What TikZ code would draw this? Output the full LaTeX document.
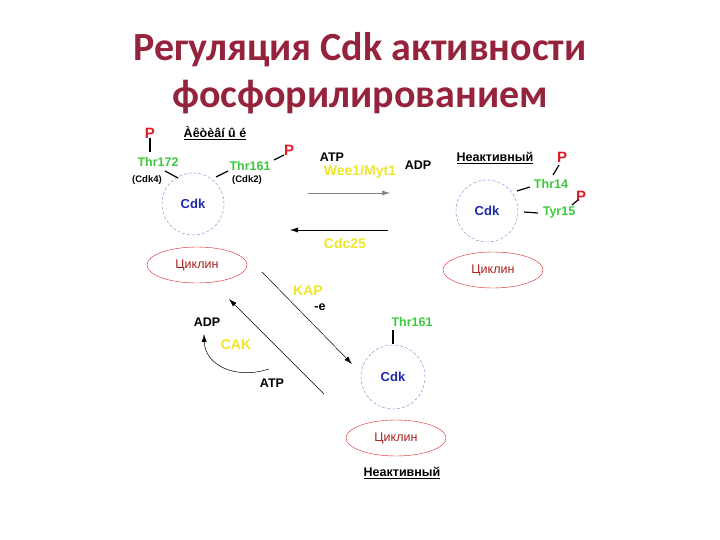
\documentclass[tikz,border=0pt]{standalone}
\usepackage{fontspec}
\setmainfont{Liberation Sans}
\newfontfamily\titlefont{Carlito}
\usetikzlibrary{arrows.meta,shapes.geometric}
\definecolor{ttl}{RGB}{150,35,60}
\definecolor{grn}{RGB}{60,200,60}
\definecolor{yel}{RGB}{240,230,40}
\definecolor{cdkb}{RGB}{30,40,170}
\definecolor{cyc}{RGB}{170,30,30}
\definecolor{pr}{RGB}{220,30,40}
\begin{document}
\begin{tikzpicture}[x=1pt,y=-1pt,
 lab/.style={font=\bfseries\fontsize{12.5}{13}\selectfont,inner sep=0pt},
 g/.style={lab,text=grn}, y1/.style={lab,text=yel,font=\bfseries\fontsize{14}{15}\selectfont},
 pp/.style={lab,text=pr,font=\bfseries\fontsize{15}{16}\selectfont},
 sm/.style={lab,font=\bfseries\fontsize{9.5}{10}\selectfont},
 cdk/.style={circle,draw=cdkb!60,densely dashed,minimum size=62pt,text=cdkb,font=\bfseries\fontsize{13}{14}\selectfont},
 cyc/.style={ellipse,draw=pr,minimum width=100pt,minimum height=36pt,text=cyc,font=\fontsize{12.5}{13}\selectfont},
 ln/.style={line width=1.2pt},
 ar/.style={-{Latex[length=8pt,width=5pt]},line width=0.5pt}]
\useasboundingbox (0,0) rectangle (720,540);
\node[font=\titlefont\bfseries\fontsize{40}{42}\selectfont,text=ttl] (t1) at (360,50) {Регуляция Cdk активности};
\node[font=\titlefont\bfseries\fontsize{40}{42}\selectfont,text=ttl] (t2) at (360,97) {фосфорилированием};
% left
\node[cdk] (c1) at (193,204) {Cdk};
\node[cyc] (y1) at (197,265) {Циклин};
\node[pp] (p1) at (150,133) {P};
\node[lab] (a1) at (215,133) {\underline{Àêòèâí û é}};
\node[g] (t172) at (158,162) {Thr172};
\node[sm] (k4) at (147,180) {(Cdk4)};
\node[g] (t161) at (250,166) {Thr161};
\node[sm] (k2) at (247,180) {(Cdk2)};
\node[pp] (p2) at (289,150) {P};
\draw[ln] (p1.south) -- ++(0,14);
\draw[ln] (165,171) -- (178,178);
\draw[ln] (216,177) -- (228,171);
\draw[ln] (274,160) -- (284,155);
% middle
\node[lab] (atp1) at (332,157) {ATP};
\node[y1] (wee) at (360,172) {Wee1/Myt1};
\node[lab] (adp1) at (418,165) {ADP};
\coordinate (r1) at (308,193); \coordinate (r2) at (390,193);
\draw[ar,gray] (r1) -- (r2);
\coordinate (l1) at (388,230); \coordinate (l2) at (290,230);
\draw[ar] (l1) -- (l2);
\node[y1] (cdc) at (345,243) {Cdc25};
% right
\node[lab] (ina1) at (495,158) {\underline{Неактивный}};
\node[cdk] (c2) at (487,211) {Cdk};
\node[cyc] (y2) at (493,270) {Циклин};
\node[g] (t14) at (551,184) {Thr14};
\node[g] (y15) at (559,212) {Tyr15};
\node[pp] (p3) at (562,157) {P};
\node[pp] (p4) at (581,196) {P};
\draw[ln] (517,191) -- (530,187);
\draw[ln] (553,175) -- (559,165);
\draw[ln] (524,212) -- (538,213);
\draw[ln] (572,205) -- (578,200);
% bottom
\coordinate (d1) at (262,272); \coordinate (d2) at (352,364);
\draw[ar] (d1) -- (d2);
\coordinate (u1) at (324,394); \coordinate (u2) at (229,299);
\draw[ar] (u1) -- (u2);
\node[y1] (kap) at (308,291) {KAP};
\node[lab] (e) at (320,307) {-e};
\node[lab] (adp2) at (207,322) {ADP};
\node[y1] (cak) at (236,345) {CAK};
\node[lab] (atp2) at (272,383) {ATP};
\coordinate (cs) at (269,369);
\draw[ar] (cs) .. controls (235,380) and (205,365) .. (204,334);
\node[cdk,minimum size=64pt] (c3) at (393,377) {Cdk};
\node[g] (t161b) at (412,322) {Thr161};
\draw[ln] (393,330) -- (393,344);
\node[cyc] (y3) at (396,438) {Циклин};
\node[lab] (ina2) at (402,473) {\underline{Неактивный}};
\end{tikzpicture}
\end{document}
